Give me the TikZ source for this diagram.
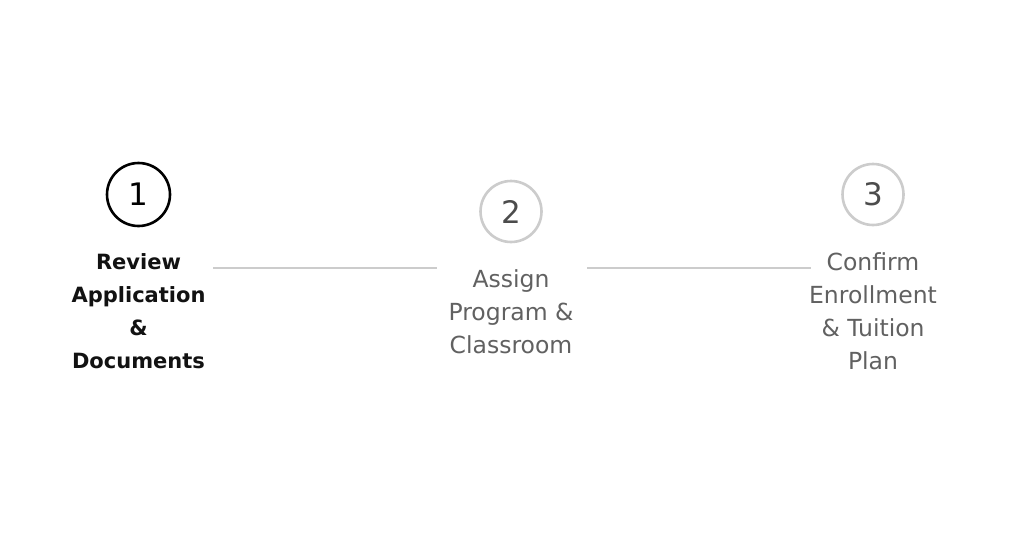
\documentclass[tikz,border=0pt]{standalone}
\usepackage{fontspec}
\setmainfont{DejaVu Sans}
\begin{document}
\begin{tikzpicture}[x=1pt,y=-1pt,
  active/.style={circle,draw=black,line width=2.6pt,minimum size=63pt,inner sep=0pt,text=black,font=\fontsize{31}{31}\selectfont},
  idle/.style={circle,draw=black!20,line width=2.6pt,minimum size=61pt,inner sep=0pt,text=black!70,font=\fontsize{31}{31}\selectfont},
  lblact/.style={align=center,text=black!93,font=\fontsize{21}{33}\selectfont\bfseries,anchor=north},
  lblidle/.style={align=center,text=black!62,font=\fontsize{23.5}{33}\selectfont,anchor=north},
  link/.style={draw=black!20,line width=2.8pt}]
\fill[white] (0,0) rectangle (1024,557);
\useasboundingbox (0,0) rectangle (1024,557);
\node[active] (c1) at (138.5,194.5) {1};
\node[idle] (c2) at (511,211.5) {2};
\node[idle] (c3) at (873,194.5) {3};
\node[lblact] (t1) at (138.5,250) {Review\\Application\\\&\\Documents};
\node[lblidle] (t2) at (511,266) {Assign\\Program \&\\Classroom};
\node[lblidle] (t3) at (873,249) {Confirm\\Enrollment\\\& Tuition\\Plan};
\coordinate (a1) at (213,268);
\coordinate (a2) at (437,268);
\coordinate (b1) at (587,268);
\coordinate (b2) at (811,268);
\draw[link] (a1) -- (a2);
\draw[link] (b1) -- (b2);
\end{tikzpicture}
\end{document}
